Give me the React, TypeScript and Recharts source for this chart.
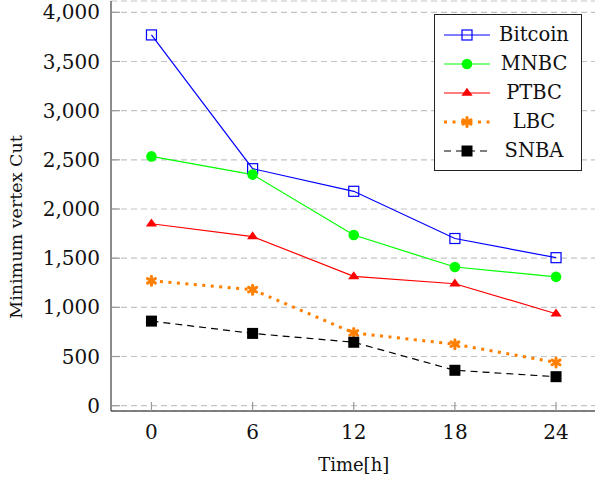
import { CartesianGrid, Label, Legend, Line, LineChart, XAxis, YAxis } from "recharts";

// values (minimum vertex cut per hour)
const HOURS = [0, 6, 12, 18, 24];
const BITCOIN = [3770, 2410, 2180, 1700, 1505];
const MNBC = [2535, 2350, 1735, 1410, 1310];
const PTBC = [1850, 1720, 1315, 1240, 935];
const LBC = [1270, 1180, 740, 625, 440];
const SNBA = [860, 735, 645, 360, 295];
const X_TICKS = [0, 6, 12, 18, 24];
const Y_TICKS = [0, 500, 1000, 1500, 2000, 2500, 3000, 3500, 4000];

const data = HOURS.map((h, i) => ({
  hour: h,
  Bitcoin: BITCOIN[i],
  MNBC: MNBC[i],
  PTBC: PTBC[i],
  LBC: LBC[i],
  SNBA: SNBA[i],
}));

const FONT = "'DejaVu Serif', serif";
const GRID = "#c4c4c4";
const AXIS = "#5a5a5a";
const TICK = "#9a9a9a";

type MarkProps = { cx?: number; cy?: number; color: string };

function SquareOpen({ cx = 0, cy = 0, color }: MarkProps) {
  return <rect x={cx - 5} y={cy - 5} width={10} height={10} fill="none" stroke={color} strokeWidth={1.2} />;
}
function Circle({ cx = 0, cy = 0, color }: MarkProps) {
  return <circle cx={cx} cy={cy} r={5.3} fill={color} />;
}
function Triangle({ cx = 0, cy = 0, color }: MarkProps) {
  return <path d={`M${cx} ${cy - 5.2} L${cx + 5.6} ${cy + 2.8} L${cx - 5.6} ${cy + 2.8} Z`} fill={color} />;
}
function Asterisk({ cx = 0, cy = 0, color }: MarkProps) {
  return (
    <g stroke={color} strokeWidth={3} strokeLinecap="round">
      <line x1={cx} y1={cy - 4.5} x2={cx} y2={cy + 4.5} />
      <line x1={cx - 4} y1={cy - 2.3} x2={cx + 4} y2={cy + 2.3} />
      <line x1={cx - 4} y1={cy + 2.3} x2={cx + 4} y2={cy - 2.3} />
      <circle cx={cx} cy={cy} r={2.5} fill={color} stroke="none" />
    </g>
  );
}
function SquareFill({ cx = 0, cy = 0, color }: MarkProps) {
  return <rect x={cx - 5.5} y={cy - 5.5} width={11} height={11} fill={color} />;
}

const SERIES = [
  { key: "Bitcoin", color: "#0000ff", width: 1.2, dash: undefined, Mark: SquareOpen },
  { key: "MNBC", color: "#00ff00", width: 1.2, dash: undefined, Mark: Circle },
  { key: "PTBC", color: "#ff0000", width: 1.2, dash: undefined, Mark: Triangle },
  { key: "LBC", color: "#ff8000", width: 3, dash: "3 5.5", Mark: Asterisk },
  { key: "SNBA", color: "#000000", width: 1.2, dash: "7 5", Mark: SquareFill },
];

function LegendBox() {
  return (
    <div
      style={{
        border: "1px solid #222",
        background: "#fff",
        width: 146,
        padding: "5px 0",
        fontFamily: FONT,
        fontSize: 19.5,
        color: "#111",
      }}
    >
      {SERIES.map((s) => (
        <div key={s.key} style={{ display: "flex", alignItems: "center", height: 29 }}>
          <svg width={46} height={16} style={{ marginLeft: 9 }}>
            <line x1={0} y1={8} x2={46} y2={8} stroke={s.color} strokeWidth={s.width} strokeDasharray={s.dash} />
            <s.Mark cx={23} cy={8} color={s.color} />
          </svg>
          <span style={{ width: 76, marginLeft: 6, textAlign: "center", lineHeight: "29px" }}>{s.key}</span>
        </div>
      ))}
    </div>
  );
}

export default function App() {
  const tickStyle = { fontSize: 20, fill: "#111", fontFamily: FONT };
  return (
    <div style={{ width: 595, height: 481, overflow: "hidden", background: "#fff" }}>
      <style>{"body{margin:0}"}</style>
      <LineChart width={598} height={481} data={data} margin={{ top: 1, right: 1.5, bottom: 0, left: 0 }}>
        <CartesianGrid vertical={false} stroke={GRID} strokeWidth={1.2} strokeDasharray="6 4" />
        <XAxis
          dataKey="hour"
          type="number"
          domain={[-2.4, 26.4]}
          ticks={X_TICKS}
          height={70}
          axisLine={{ stroke: AXIS, strokeWidth: 1.4 }}
          tickLine={{ stroke: TICK, strokeWidth: 1.2 }}
          tickSize={-9}
          tickMargin={23}
          tick={tickStyle}
        >
          <Label
            content={() => (
              <text x={353.7} y={471} textAnchor="middle" fontFamily={FONT} fontSize={18} fill="#111">
                Time[h]
              </text>
            )}
          />
        </XAxis>
        <XAxis
          xAxisId="top"
          orientation="top"
          dataKey="hour"
          type="number"
          domain={[-2.4, 26.4]}
          ticks={X_TICKS}
          height={0}
          axisLine={{ stroke: "#111", strokeWidth: 1.2 }}
          tickLine={{ stroke: TICK, strokeWidth: 1.2 }}
          tickSize={-9}
          tickFormatter={() => ""}
        />
        <YAxis
          type="number"
          domain={[-54, 4115]}
          ticks={Y_TICKS}
          width={111}
          axisLine={{ stroke: AXIS, strokeWidth: 1.4 }}
          tickLine={{ stroke: TICK, strokeWidth: 1.2 }}
          tickSize={-9}
          tickMargin={20}
          tick={tickStyle}
          tickFormatter={(v: number) => v.toLocaleString("en-US")}
        >
          <Label
            content={() => (
              <text
                x={22}
                y={227}
                transform="rotate(-90 22 227)"
                textAnchor="middle"
                fontFamily={FONT}
                fontSize={17.5}
                fill="#111"
              >
                Minimum vertex Cut
              </text>
            )}
          />
        </YAxis>
        <YAxis
          yAxisId="right"
          orientation="right"
          type="number"
          domain={[-54, 4115]}
          ticks={Y_TICKS}
          width={0}
          axisLine={{ stroke: "#111", strokeWidth: 1.2 }}
          tickLine={{ stroke: TICK, strokeWidth: 1.2 }}
          tickSize={-9}
          tickFormatter={() => ""}
        />
        {SERIES.map((s) => (
          <Line
            key={s.key}
            dataKey={s.key}
            name={s.key}
            stroke={s.color}
            strokeWidth={s.width}
            strokeDasharray={s.dash}
            isAnimationActive={false}
            dot={(p: any) => <s.Mark key={`${s.key}-${p.index}`} cx={p.cx} cy={p.cy} color={s.color} />}
            activeDot={false}
          />
        ))}
        <Legend
          layout="vertical"
          align="center"
          verticalAlign="middle"
          content={() => <LegendBox />}
          wrapperStyle={{ position: "absolute", left: 434, top: 14, width: 148 }}
        />
      </LineChart>
    </div>
  );
}
